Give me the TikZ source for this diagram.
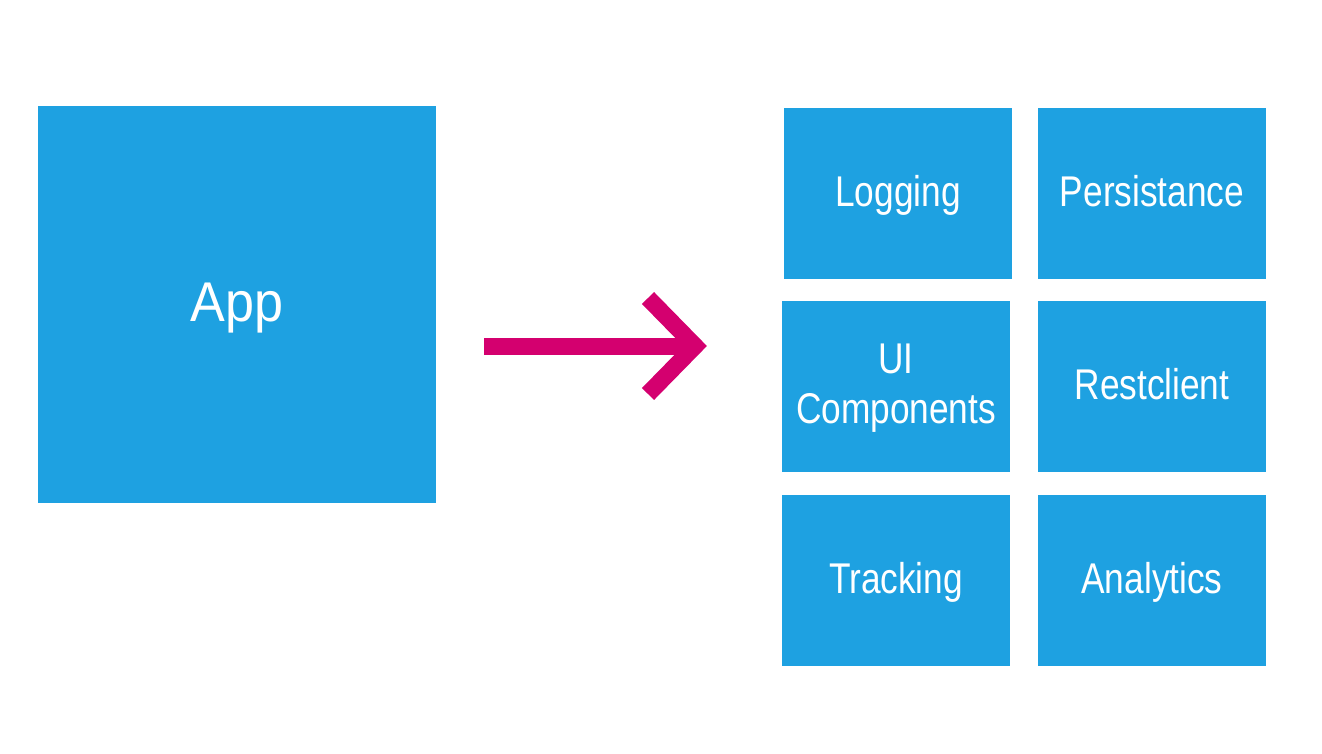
\documentclass[tikz,border=0pt]{standalone}
\usepackage{fontspec}
\setmainfont{Liberation Sans}
\newfontfamily\appfont{Liberation Sans}[FakeStretch=0.93]
\newfontfamily\modfont{Liberation Sans}[FakeStretch=0.82]
\usepackage{tikz}
\usepackage{xcolor}
\usetikzlibrary{positioning}

\definecolor{appblue}{HTML}{1EA1E1}
\definecolor{arrowpink}{HTML}{D4006F}

\tikzset{
    bigbox/.style={fill=appblue, text=white, inner sep=0pt, text depth=2.5pt,
        minimum width=199pt, minimum height=198.5pt,
        font=\appfont\fontsize{28}{32}\selectfont},
    modbox/.style={fill=appblue, text=white, inner sep=0pt, text depth=3pt,
        minimum width=114pt, minimum height=85.5pt,
        align=center, font=\modfont\fontsize{21.5}{25}\selectfont},
    bigarrow/.style={draw=arrowpink, line width=8.5pt, line cap=butt, line join=miter}
}

\begin{document}
\begin{tikzpicture}[x=0.5pt,y=-0.5pt]
        \useasboundingbox (0,0) rectangle (1322,754);
        % Aplicación monolítica
        \node[bigbox] (app) at (237,304.5) {App};

        % Módulos
        \foreach \name/\x/\y/\txt in {log/898/193.5/Logging, pers/1152/193.5/Persistance,
                ui/896/386.5/{UI\\Components}, rest/1152/386.5/Restclient,
                track/896/580.5/Tracking, ana/1152/580.5/Analytics} {
            \node[modbox] (\name) at (\x,\y) {\txt};
        }

        % Flecha
        \coordinate (arrowstart) at (484,346);
        \coordinate (arrowend) at (695,346);
        \draw[bigarrow] (arrowstart) -- ([xshift=-2.5pt]arrowend);
        \draw[bigarrow] (arrowend) ++(-47,-48) -- (arrowend) -- ++(-47,48);
    \end{tikzpicture}
\end{document}
